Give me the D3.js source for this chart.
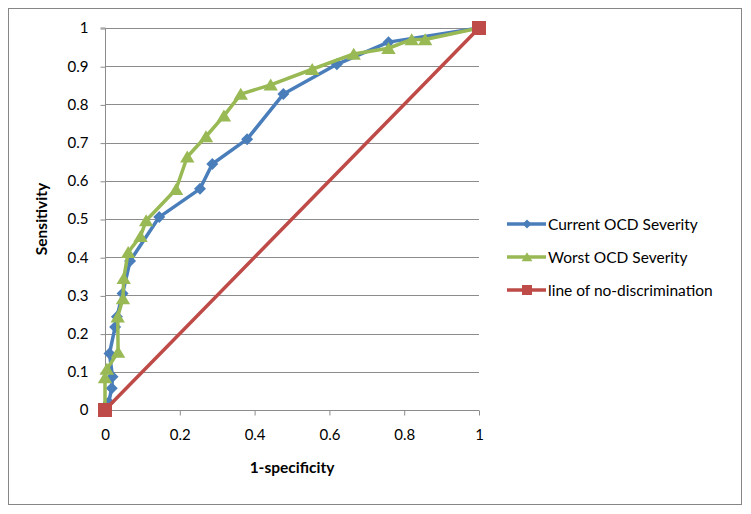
<!DOCTYPE html>
<html><head><meta charset="utf-8">
<script src="https://cdn.jsdelivr.net/npm/d3@7"></script>
<style>
html,body{margin:0;padding:0;background:#fff;}
svg{display:block;font-family:Lato,"Open Sans",sans-serif;}
</style></head>
<body>
<svg id="chart" width="751" height="514"></svg>
<script>
const xTicks = [0, 0.2, 0.4, 0.6, 0.8, 1];
const xTickLabels = ["0", "0.2", "0.4", "0.6", "0.8", "1"];
const yTicks = [0, 0.1, 0.2, 0.3, 0.4, 0.5, 0.6, 0.7, 0.8, 0.9, 1];
const yTickLabels = ["0", "0.1", "0.2", "0.3", "0.4", "0.5", "0.6", "0.7", "0.8", "0.9", "1"];
const seriesNames = ["Current OCD Severity", "Worst OCD Severity", "line of no-discrimination"];

const currentX = [0, 0.01, 0.018, 0.02, 0.012, 0.027, 0.032, 0.047, 0.067, 0.145, 0.254, 0.287, 0.38, 0.477, 0.62, 0.758, 1];
const currentY = [0, 0.02, 0.057, 0.087, 0.148, 0.217, 0.244, 0.305, 0.39, 0.505, 0.579, 0.644, 0.709, 0.827, 0.905, 0.963, 1];

const worstX = [0, 0, 0.005, 0.035, 0.034, 0.048, 0.05, 0.062, 0.095, 0.11, 0.19, 0.22, 0.27, 0.318, 0.363, 0.443, 0.554, 0.665, 0.758, 0.82, 0.856, 1];
const worstY = [0, 0.085, 0.107, 0.152, 0.244, 0.292, 0.345, 0.413, 0.455, 0.496, 0.578, 0.663, 0.716, 0.77, 0.827, 0.851, 0.892, 0.932, 0.947, 0.97, 0.97, 1];

const refX = [0, 1];
const refY = [0, 1];

const colors = ["#4A7EBB", "#98B954", "#BE4B48"];

const svg = d3.select("#chart");
svg.append("rect").attr("x", 8.5).attr("y", 8.5).attr("width", 733).attr("height", 496)
  .attr("fill", "#fff").attr("stroke", "#868686").attr("stroke-width", 1);

const x = d3.scaleLinear().domain([0, 1]).range([105, 479]);
const y = d3.scaleLinear().domain([0, 1]).range([410, 28]);

svg.append("g").selectAll("line").data(yTicks.filter(d => d > 0)).join("line")
  .attr("x1", x(0)).attr("x2", x(1)).attr("y1", d => Math.round(y(d)) + 0.5).attr("y2", d => Math.round(y(d)) + 0.5)
  .attr("stroke", "#8c8c8c").attr("stroke-width", 1);

const yAxis = d3.axisLeft(y).tickValues(yTicks).tickFormat((d, i) => yTickLabels[i]).tickSize(5).tickPadding(12);
const gy = svg.append("g").attr("transform", `translate(${x(0) + 0.5},0)`).call(yAxis);
gy.selectAll("text").attr("font-size", 15).attr("fill", "#000").attr("font-family", "Lato, sans-serif");
gy.selectAll("line, path").attr("stroke", "#8c8c8c");
gy.select(".domain").attr("d", `M-5,${y(1)}H0V${y(0)}H-5`);
gy.selectAll(".tick line").attr("transform", "translate(0,0.5)");

const xAxis = d3.axisBottom(x).tickValues(xTicks).tickFormat((d, i) => xTickLabels[i]).tickSize(5).tickPadding(14);
const gx = svg.append("g").attr("transform", `translate(0,${Math.round(y(0)) + 0.5})`).call(xAxis);
gx.selectAll("text").attr("font-size", 15).attr("fill", "#000").attr("font-family", "Lato, sans-serif");
gx.selectAll("line, path").attr("stroke", "#8c8c8c");
gx.select(".domain").attr("d", `M${x(0)},0H${x(1)}`);

svg.append("text").attr("x", x(0.5)).attr("y", 473).attr("text-anchor", "middle")
  .attr("font-size", 15.5).attr("font-weight", "bold").text("1-specificity");
svg.append("text").attr("transform", `translate(47,${y(0.5)}) rotate(-90)`).attr("text-anchor", "middle")
  .attr("font-size", 15.5).attr("font-weight", "bold").text("Sensitivity");

const line = d3.line().x(d => x(d[0])).y(d => y(d[1]));

function markerPath(i, s) {
  if (i === 0) return `M0,${-s}L${s},0L0,${s}L${-s},0Z`;
  if (i === 1) return `M0,${-s * 1.05}L${s * 1.2},${s * 0.95}L${-s * 1.2},${s * 0.95}Z`;
  return `M${-s},${-s}H${s}V${s}H${-s}Z`;
}
const plotSize = [6, 6, 7];
const legSize = [4.5, 4.5, 5];

const seriesData = [d3.zip(currentX, currentY), d3.zip(worstX, worstY), d3.zip(refX, refY)];

[0, 1, 2].forEach(i => {
  const data = seriesData[i];
  svg.append("path").datum(data).attr("d", line).attr("fill", "none")
    .attr("stroke", colors[i]).attr("stroke-width", 3.5).attr("stroke-linejoin", "round").attr("stroke-linecap", "round");
  svg.append("g").selectAll("path").data(data).join("path")
    .attr("transform", d => `translate(${x(d[0])},${y(d[1])})`)
    .attr("d", markerPath(i, plotSize[i]))
    .attr("fill", colors[i]);
});

const legY = [224, 257, 290];
seriesNames.forEach((name, i) => {
  const g = svg.append("g").attr("transform", `translate(0,${legY[i]})`);
  g.append("line").attr("x1", 507).attr("x2", 546).attr("y1", 0).attr("y2", 0)
    .attr("stroke", colors[i]).attr("stroke-width", 3.5);
  g.append("path").attr("transform", `translate(527,0)`)
    .attr("d", markerPath(i, legSize[i])).attr("fill", colors[i]);
  g.append("text").attr("x", 548).attr("y", 5.5).attr("font-size", 15.5).attr("fill", "#000").text(name);
});
</script>
</body></html>
